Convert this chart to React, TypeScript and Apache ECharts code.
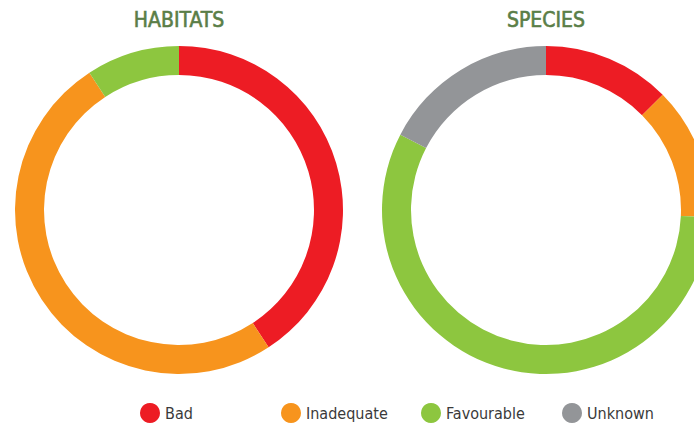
import React, { useEffect, useRef } from "react";
import * as echarts from "echarts";

const categories = ["Bad", "Inadequate", "Favourable", "Unknown"];
const colors = ["#ED1C24", "#F7941D", "#8DC63F", "#939598"];
const habitatValues = [40.8, 50.0, 9.2, 0];
const speciesValues = [12.6, 13.1, 56.9, 17.4];
const titles = ["HABITATS", "SPECIES"];

export default function App() {
  const ref = useRef<HTMLDivElement>(null);
  useEffect(() => {
    document.body.style.margin = "0";
    const chart = echarts.init(ref.current!, null, { renderer: "svg" });
    const mk = (vals: number[]) =>
      categories
        .map((c, i) => ({ name: c, value: vals[i], itemStyle: { color: colors[i] } }))
        .filter((d) => d.value > 0);
    const legendLeft = [140, 281, 421, 562];
    const titleX = [179, 546];
    chart.setOption({
      animation: false,
      color: colors,
      graphic: titles.map((t, i) => ({
        type: "text",
        x: titleX[i],
        y: 9,
        style: {
          text: t,
          align: "center",
          verticalAlign: "top",
          fontFamily: "'DejaVu Sans Condensed', Roboto, sans-serif",
          fontWeight: "normal",
          fontSize: 21,
          fill: "#5A7E47",
          stroke: "#5A7E47",
          lineWidth: 0.6,
        },
      })),
      legend: categories.map((c, i) => ({
        data: [c],
        left: legendLeft[i],
        top: 403,
        icon: "circle",
        itemWidth: 20,
        itemHeight: 20,
        itemGap: 6,
        padding: 0,
        selectedMode: false,
        textStyle: {
          fontFamily: "'DejaVu Sans Condensed', Roboto, sans-serif",
          fontSize: 16,
          color: "#3a3a3a",
        },
      })),
      series: [
        { center: [179, 210], data: mk(habitatValues) },
        { center: [546, 210], data: mk(speciesValues) },
      ].map((s) => ({
        type: "pie",
        radius: [135, 164],
        center: s.center,
        startAngle: 90,
        clockwise: true,
        label: { show: false },
        labelLine: { show: false },
        emphasis: { disabled: true },
        silent: true,
        data: s.data,
      })),
    });
    return () => chart.dispose();
  }, []);
  return <div ref={ref} style={{ width: 694, height: 423 }} />;
}
